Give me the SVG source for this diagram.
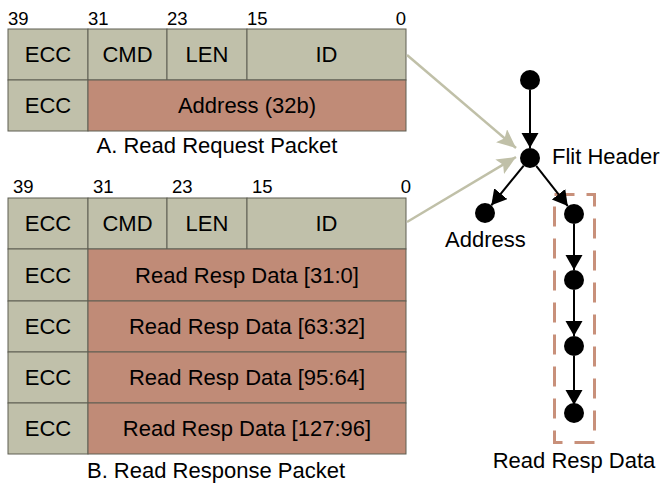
<svg xmlns="http://www.w3.org/2000/svg" width="661" height="487" viewBox="0 0 661 487">
<style>
  text { font-family: "Liberation Sans", Arial, sans-serif; fill: #000; }
  .cell { font-size: 22px; text-anchor: middle; }
  .bit { font-size: 18.5px; }
  .lbl { font-size: 22px; }
  .g { fill: #c0c0aa; stroke: #5e5e52; stroke-width: 1; }
  .r { fill: #c08b77; stroke: #5e5e52; stroke-width: 1; }
  .node { fill: #000; }
  .blk { stroke: #000; stroke-width: 2; fill: none; marker-end: url(#ab); }
  .gry { stroke: #c0c0a8; stroke-width: 2.5; fill: none; marker-end: url(#ag); }
</style>
<defs>
  <marker id="ab" markerUnits="userSpaceOnUse" markerWidth="16" markerHeight="18" refX="15" refY="8.5" orient="auto">
    <path d="M0,0 L15,8.5 L0,17 Z" fill="#000"/>
  </marker>
  <marker id="ag" markerUnits="userSpaceOnUse" markerWidth="20" markerHeight="18" refX="19" refY="8.5" orient="auto">
    <path d="M0,0 L19,8.5 L0,17 L4,8.5 Z" fill="#c0c0a8"/>
  </marker>
</defs>

<g id="request-packet">
  <text class="bit" x="8" y="25">39</text>
  <text class="bit" x="88" y="25">31</text>
  <text class="bit" x="167" y="25">23</text>
  <text class="bit" x="247" y="25">15</text>
  <text class="bit" x="406" y="25" text-anchor="end">0</text>
  <rect class="g" x="8" y="29" width="80" height="51"/>
  <rect class="g" x="88" y="29" width="79" height="51"/>
  <rect class="g" x="167" y="29" width="80" height="51"/>
  <rect class="g" x="247" y="29" width="159" height="51"/>
  <rect class="g" x="8" y="80" width="80" height="51"/>
  <rect class="r" x="88" y="80" width="318" height="51"/>
  <text class="cell" x="48" y="62">ECC</text>
  <text class="cell" x="127.5" y="62">CMD</text>
  <text class="cell" x="207" y="62">LEN</text>
  <text class="cell" x="326.5" y="62">ID</text>
  <text class="cell" x="48" y="113">ECC</text>
  <text class="cell" x="247" y="113">Address (32b)</text>
  <text class="lbl" x="217" y="153" text-anchor="middle">A. Read Request Packet</text>
</g>

<g id="response-packet">
  <text class="bit" x="13" y="193">39</text>
  <text class="bit" x="93" y="193">31</text>
  <text class="bit" x="172" y="193">23</text>
  <text class="bit" x="252" y="193">15</text>
  <text class="bit" x="411" y="193" text-anchor="end">0</text>
  <rect class="g" x="8" y="198" width="80" height="51"/>
  <rect class="g" x="88" y="198" width="79" height="51"/>
  <rect class="g" x="167" y="198" width="80" height="51"/>
  <rect class="g" x="247" y="198" width="159" height="51"/>
  <rect class="g" x="8" y="249" width="80" height="52"/>
  <rect class="r" x="88" y="249" width="318" height="52"/>
  <rect class="g" x="8" y="301" width="80" height="51"/>
  <rect class="r" x="88" y="301" width="318" height="51"/>
  <rect class="g" x="8" y="352" width="80" height="51"/>
  <rect class="r" x="88" y="352" width="318" height="51"/>
  <rect class="g" x="8" y="403" width="80" height="51"/>
  <rect class="r" x="88" y="403" width="318" height="51"/>
  <text class="cell" x="48" y="231">ECC</text>
  <text class="cell" x="127.5" y="231">CMD</text>
  <text class="cell" x="207" y="231">LEN</text>
  <text class="cell" x="326.5" y="231">ID</text>
  <text class="cell" x="48" y="282.5">ECC</text>
  <text class="cell" x="247" y="282.5">Read Resp Data [31:0]</text>
  <text class="cell" x="48" y="334">ECC</text>
  <text class="cell" x="247" y="334">Read Resp Data [63:32]</text>
  <text class="cell" x="48" y="385">ECC</text>
  <text class="cell" x="247" y="385">Read Resp Data [95:64]</text>
  <text class="cell" x="48" y="436">ECC</text>
  <text class="cell" x="247" y="436">Read Resp Data [127:96]</text>
  <text class="lbl" x="216" y="478" text-anchor="middle">B. Read Response Packet</text>
</g>

<g id="read-resp-group">
  <rect x="554.5" y="194.5" width="40" height="248" fill="none" stroke="#c8907a" stroke-width="3" stroke-dasharray="20 12"/>
  <text class="lbl" x="574" y="468" text-anchor="middle">Read Resp Data</text>
</g>

<g id="connectors">
  <path class="gry" d="M407,55 L516,148"/>
  <path class="gry" d="M407,222 L516,157"/>
  <path class="blk" d="M530,90 L530,148"/>
  <path class="blk" d="M523.7,165.7 L491.3,205.3"/>
  <path class="blk" d="M536.2,165.9 L567.8,206.1"/>
  <path class="blk" d="M574,224 L574,270"/>
  <path class="blk" d="M574,290 L574,336"/>
  <path class="blk" d="M574,356 L574,405"/>
</g>

<g id="node-top"><circle class="node" cx="530" cy="80" r="10"/></g>
<g id="node-flit-header">
  <circle class="node" cx="530" cy="158" r="10"/>
  <text class="lbl" x="552" y="164">Flit Header</text>
</g>
<g id="node-address">
  <circle class="node" cx="485" cy="213" r="10"/>
  <text class="lbl" x="445" y="247">Address</text>
</g>
<g id="node-data1"><circle class="node" cx="574" cy="214" r="10"/></g>
<g id="node-data2"><circle class="node" cx="574" cy="280" r="10"/></g>
<g id="node-data3"><circle class="node" cx="574" cy="346" r="10"/></g>
<g id="node-data4"><circle class="node" cx="574" cy="413" r="10"/></g>
</svg>
